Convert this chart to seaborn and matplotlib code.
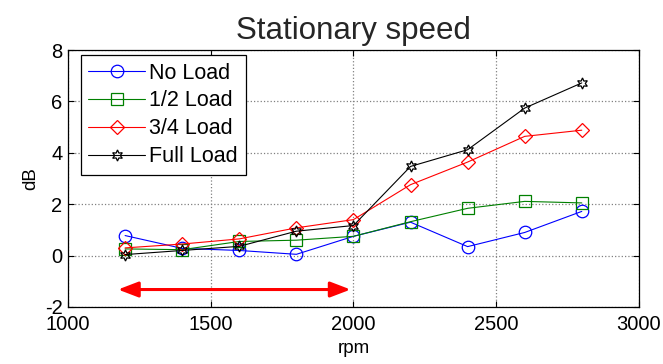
import numpy as np
import pandas as pd
import matplotlib
matplotlib.use("Agg")
import matplotlib.pyplot as plt
import seaborn as sns

rpm = [1200, 1400, 1600, 1800, 2000, 2200, 2400, 2600, 2800]
no_load = [0.78, 0.28, 0.2, 0.05, 0.75, 1.3, 0.35, 0.9, 1.72]
half_load = [0.26, 0.23, 0.55, 0.6, 0.75, 1.32, 1.84, 2.11, 2.05]
three_q_load = [0.3, 0.45, 0.65, 1.08, 1.4, 2.76, 3.64, 4.64, 4.88]
full_load = [0.04, 0.2, 0.36, 0.95, 1.17, 3.47, 4.12, 5.74, 6.72]
series_names = ["No Load", "1/2 Load", "3/4 Load", "Full Load"]
arrow_range = [1175, 1990]
arrow_y = -1.32

sns.set_theme(style="white")
plt.rcParams['font.family'] = ['Liberation Sans', 'DejaVu Sans']
plt.rcParams['axes.unicode_minus'] = False
plt.rcParams['text.color'] = 'black'
plt.rcParams['axes.labelcolor'] = 'black'
plt.rcParams['xtick.color'] = 'black'
plt.rcParams['ytick.color'] = 'black'

df = pd.DataFrame({
    "rpm": rpm * 4,
    "dB": no_load + half_load + three_q_load + full_load,
    "series": sum([[n] * len(rpm) for n in series_names], []),
})

colors = {"No Load": "#0000ff", "1/2 Load": "#008000", "3/4 Load": "#ff0000", "Full Load": "#000000"}
markers = {"No Load": "o", "1/2 Load": "s", "3/4 Load": "D", "Full Load": (6, 1, 0)}
msizes = {"No Load": 9, "1/2 Load": 8.5, "3/4 Load": 7.5, "Full Load": 8}

fig = plt.figure(figsize=(6.63, 3.64), dpi=100)
ax = fig.add_axes([0.1026, 0.1566, 0.861, 0.706])

sns.lineplot(data=df, x="rpm", y="dB", hue="series", style="series",
             palette=colors, markers=markers, dashes=False, ax=ax,
             markersize=9, linewidth=0.8, markeredgewidth=0.9, legend=True)

leg = ax.legend(loc="upper left", bbox_to_anchor=(0.022, 0.9805), borderaxespad=0,
                fontsize=15.5, frameon=True, fancybox=False,
                edgecolor="black", framealpha=1,
                handlelength=2.65, labelspacing=0.32, borderpad=0.35,
                handletextpad=0.2)
leg.get_frame().set_linewidth(0.9)

for line, name in zip(ax.lines[:4], series_names):
    line.set_markersize(msizes[name])
for line in list(ax.lines) + list(leg.legend_handles):
    line.set_markerfacecolor("none")
    line.set_markeredgecolor(line.get_color())
for h, name in zip(leg.legend_handles, series_names):
    h.set_markersize(msizes[name])
    h.set_linewidth(0.8)

ax.annotate("", xy=(arrow_range[0], arrow_y), xytext=(arrow_range[1], arrow_y),
            arrowprops=dict(arrowstyle="<|-|>,head_length=0.68,head_width=0.26",
                            color="#ff0000", lw=2.2,
                            mutation_scale=18, shrinkA=0, shrinkB=0))

ax.set_xlim(1000, 3000)
ax.set_ylim(-2, 8)
ax.set_xticks([1000, 1500, 2000, 2500, 3000])
ax.set_yticks([-2, 0, 2, 4, 6, 8])
ax.set_xlabel("rpm", fontsize=13.5, labelpad=4)
ax.set_ylabel("dB", fontsize=13.5, labelpad=4)
ax.set_title("Stationary speed", fontsize=22.5, pad=8, color="#262626")
ax.tick_params(direction="in", length=4, labelsize=14.5, top=True, right=True,
               bottom=True, left=True, width=0.8, color="black")
ax.tick_params(axis="x", pad=6)
ax.tick_params(axis="y", pad=4)
ax.grid(True, color="#808080", linestyle=":", linewidth=0.9)
for s in ax.spines.values():
    s.set_color("black")
    s.set_linewidth(0.9)

fig.savefig("out.png", dpi=100)
